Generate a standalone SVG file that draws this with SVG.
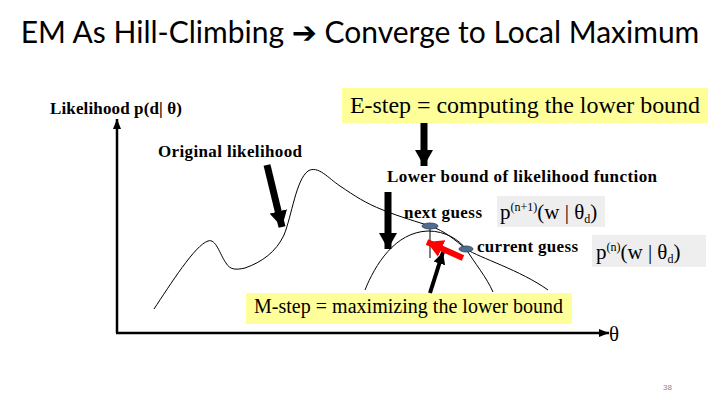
<svg xmlns="http://www.w3.org/2000/svg" width="720" height="405" viewBox="0 0 720 405">
<style>
.title{font-family:"Lato","Liberation Sans","DejaVu Sans",sans-serif;font-size:30px;fill:#000}
.lbl{font-family:"Liberation Serif","Times New Roman",serif;font-weight:bold;font-size:17px;fill:#000}
.big{font-family:"Liberation Serif","Times New Roman",serif;font-size:24px;fill:#000}
.mid{font-family:"Liberation Serif","Times New Roman",serif;font-size:20px;fill:#000}
.math{font-family:"Liberation Serif","Times New Roman",serif;font-size:21px;fill:#000}
.yel{fill:#FFFF99}
.gry{fill:#EEEEEE}
.curve{fill:none;stroke:#000;stroke-width:1}
.axis{stroke:#000;stroke-width:2.5;fill:none}
.thick{stroke:#000;stroke-width:7;fill:none}
</style>
<defs>
<marker id="axhead" markerUnits="userSpaceOnUse" viewBox="0 0 10 10" markerWidth="10" markerHeight="10" refX="10" refY="5" orient="auto">
<path d="M0,1 L10,5 L0,9 z" fill="#000"/>
</marker>
<marker id="bighead" markerUnits="userSpaceOnUse" viewBox="0 0 16 18" markerWidth="16" markerHeight="18" refX="16" refY="9" orient="auto">
<path d="M0,0 L16,9 L0,18 z" fill="#000"/>
</marker>
<marker id="medhead" markerUnits="userSpaceOnUse" viewBox="0 0 12 12" markerWidth="12" markerHeight="12" refX="12" refY="6" orient="auto">
<path d="M0,0 L12,6 L0,12 z" fill="#000"/>
</marker>
<marker id="redhead" markerUnits="userSpaceOnUse" viewBox="0 0 16 18" markerWidth="16" markerHeight="18" refX="16" refY="9" orient="auto">
<path d="M0,0 L16,9 L0,18 z" fill="#FF0000"/>
</marker>
</defs>
<rect width="720" height="405" fill="#fff"/>
<g id="title">
<text class="title" x="360" y="43" text-anchor="middle">EM As Hill-Climbing ➔ Converge to Local Maximum</text>
</g>
<g id="axes">
<line class="axis" x1="117" y1="333" x2="117" y2="119" marker-end="url(#axhead)"/>
<line class="axis" x1="116" y1="333" x2="609" y2="333" marker-end="url(#axhead)"/>
<text class="math" x="609" y="341" font-size="18">θ</text>
</g>
<g id="likelihood-label"><text class="lbl" x="50" y="114" textLength="132" lengthAdjust="spacing">Likelihood p(d| θ)</text></g>
<g id="original-label"><text class="lbl" x="158" y="157" textLength="144" lengthAdjust="spacing">Original likelihood</text></g>
<g id="estep">
<rect class="yel" x="342" y="88" width="366" height="35"/>
<text class="big" x="350" y="113" textLength="350" lengthAdjust="spacing">E-step = computing the lower bound</text>
</g>
<g id="lowerbound-label"><text class="lbl" x="387" y="182" textLength="270" lengthAdjust="spacing">Lower bound of likelihood function</text></g>
<g id="curves">
<path id="original" class="curve" d="M154,309 C170,285 195,245 208,241 C216,238 220,255 226,263 C230,270 236,270 245,268 C262,262 276,252 284,235 C292,215 296,180 308,171 C318,165 328,178 340,186 C355,196 365,203 383,210 C400,217 418,222 430,226 C445,231 455,240 466,249 C480,258 520,270 548,290"/>
<path id="lowerbound" class="curve" d="M365,290 C375,265 395,232 428,231 C446,231 459,240 466,249 C474,262 487,278 493,292"/>
<line class="curve" x1="430" y1="226" x2="430" y2="258"/>
</g>
<g id="next-guess">
<ellipse cx="430" cy="226" rx="8" ry="3" fill="#4F6D8F" stroke="#2A3F57" stroke-width="0.8"/>
<text class="lbl" x="404" y="218" textLength="78" lengthAdjust="spacing">next guess</text>
<rect class="gry" x="497" y="196" width="108" height="31"/>
<text class="math" x="500" y="219">p<tspan font-size="12" dy="-8">(n+1)</tspan><tspan dy="8">(w | θ</tspan><tspan font-size="12" dy="4">d</tspan><tspan dy="-4">)</tspan></text>
</g>
<g id="current-guess">
<ellipse cx="466" cy="249" rx="7" ry="3" fill="#4F6D8F" stroke="#2A3F57" stroke-width="0.8"/>
<text class="lbl" x="477" y="252" textLength="101" lengthAdjust="spacing">current guess</text>
<rect class="gry" x="592" y="235" width="114" height="32"/>
<text class="math" x="596" y="259">p<tspan font-size="12" dy="-8">(n)</tspan><tspan dy="8">(w | θ</tspan><tspan font-size="12" dy="4">d</tspan><tspan dy="-4">)</tspan></text>
</g>
<g id="mstep">
<rect class="yel" x="246" y="293" width="326" height="31"/>
<text class="mid" x="254" y="313" textLength="309" lengthAdjust="spacing">M-step = maximizing the lower bound</text>
</g>
<g id="connectors">
<line class="thick" x1="267" y1="165" x2="282" y2="227" marker-end="url(#bighead)"/>
<line class="thick" x1="388" y1="192" x2="388" y2="249" marker-end="url(#bighead)"/>
<line class="thick" x1="424" y1="123" x2="424" y2="166" marker-end="url(#bighead)"/>
<line stroke="#000" stroke-width="4" x1="430" y1="293" x2="443" y2="252" marker-end="url(#medhead)"/>
<line stroke="#FF0000" stroke-width="6" x1="463" y1="258" x2="427" y2="242" marker-end="url(#redhead)"/>
</g>
<g id="page-number"><text x="663" y="390" font-family="Liberation Sans, sans-serif" font-size="8" fill="#888">38</text></g>
</svg>
